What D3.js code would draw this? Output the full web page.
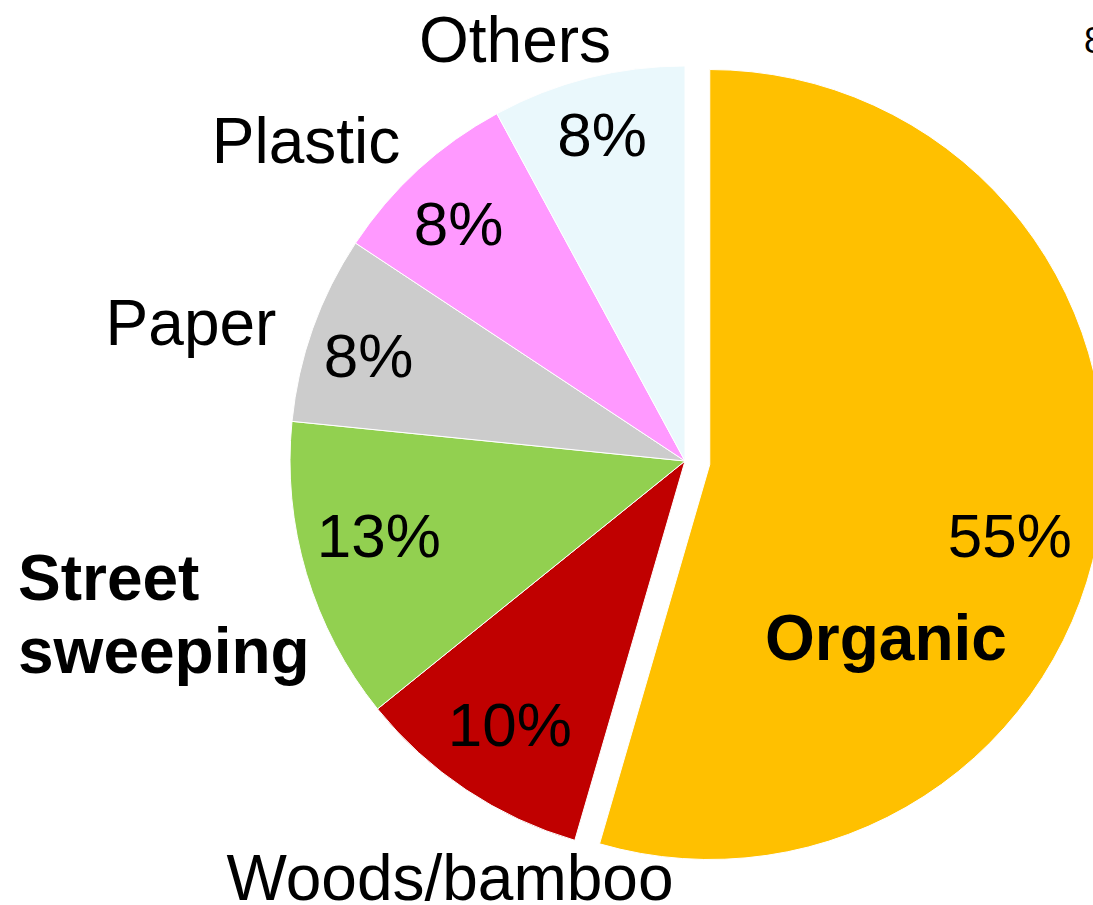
<!DOCTYPE html>
<html>
<head>
<meta charset="utf-8">
<script src="https://cdn.jsdelivr.net/npm/d3@7"></script>
<style>
    body { margin: 0; background: #fff; }
    svg { display: block; font-family: "Liberation Sans", Arial, sans-serif; }
</style>
</head>
<body>
<svg id="pie" width="1093" height="905"></svg>
<script>
// Waste composition (share of total), clockwise from 12 o'clock
const categories = ["Organic", "Woods/bamboo", "Street sweeping", "Paper", "Plastic", "Others"];
const shares = [54.5, 9.7, 12.4, 7.7, 7.8, 7.9];
const pctLabels = ["55%", "10%", "13%", "8%", "8%", "8%"];
const colors = ["#FFC000", "#C00000", "#92D050", "#CCCCCC", "#FF99FF", "#EAF8FC"];

const width = 1093;
const height = 905;
const cx = 685;
const cy = 461;
const radius = 395;
const explode = 25;

const data = categories.map((c, i) => ({ name: c, value: shares[i], pct: pctLabels[i], color: colors[i] }));

const svg = d3.select("#pie");
const g = svg.append("g").attr("transform", `translate(${cx},${cy})`);

const pie = d3.pie().sort(null).value(d => d.value);
const arcs = pie(data);

const arc = d3.arc().innerRadius(0).outerRadius(radius);

// Offset for exploded slice (only the first one, Organic)
const offsetOf = (d, i) => {
    if (i !== 0) return [0, 0];
    const mid = (d.startAngle + d.endAngle) / 2;
    return [Math.sin(mid) * explode, -Math.cos(mid) * explode];
};

// Draw slices
g.selectAll(".slice")
    .data(arcs)
    .join("path")
    .attr("class", "slice")
    .attr("d", arc)
    .attr("transform", (d, i) => `translate(${offsetOf(d, i)})`)
    .attr("fill", d => d.data.color)
    .attr("stroke", "#fff")
    .attr("stroke-width", 1);

// Percentage labels: radius and small angle shift (deg) for each slice
const pctRadius = [308, 316, 315, 334, 329, 338];
const pctShift = [5, 0, 3, -1, -1, 0];

g.selectAll(".pct")
    .data(arcs)
    .join("text")
    .attr("class", "pct")
    .attr("transform", (d, i) => {
        const [ox, oy] = offsetOf(d, i);
        const a = (d.startAngle + d.endAngle) / 2 + pctShift[i] * Math.PI / 180;
        const r = pctRadius[i];
        return `translate(${ox + Math.sin(a) * r},${oy - Math.cos(a) * r})`;
    })
    .attr("text-anchor", "middle")
    .attr("dy", "0.36em")
    .attr("font-size", 62)
    .attr("fill", "#000")
    .text(d => d.data.pct);

// Category names
const nameAnchors = [
    { lines: ["Organic"], x: 886, y: 660, bold: true, anchor: "middle" },
    { lines: ["Woods/bamboo"], x: 450, y: 900, bold: false, anchor: "middle" },
    { lines: ["Street", "sweeping"], x: 18, y: 600, bold: true, anchor: "start" },
    { lines: ["Paper"], x: 191, y: 345, bold: false, anchor: "middle" },
    { lines: ["Plastic"], x: 306, y: 163, bold: false, anchor: "middle" },
    { lines: ["Others"], x: 515, y: 62, bold: false, anchor: "middle" }
];

svg.selectAll(".name")
    .data(nameAnchors)
    .join("text")
    .attr("class", "name")
    .attr("x", d => d.x)
    .attr("y", d => d.y)
    .attr("text-anchor", d => d.anchor)
    .attr("font-size", 64)
    .attr("font-weight", d => d.bold ? "bold" : "normal")
    .attr("fill", "#000")
    .each(function (d) {
        d3.select(this).selectAll("tspan")
            .data(d.lines)
            .join("tspan")
            .attr("x", d.x)
            .attr("dy", (l, j) => j === 0 ? 0 : 73)
            .text(l => l);
    });

// Clipped stray label at the right edge
svg.append("text")
    .attr("x", 1084)
    .attr("y", 53)
    .attr("font-size", 36)
    .attr("fill", "#000")
    .text("8");
</script>
</body>
</html>
